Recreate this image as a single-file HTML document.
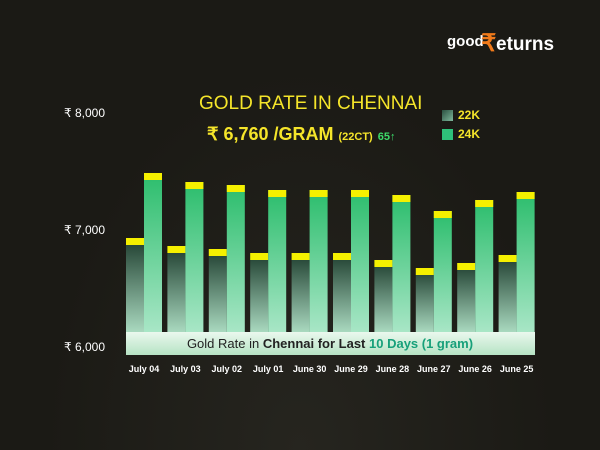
<!DOCTYPE html>
<html><head><meta charset="utf-8"><style>
body{margin:0;width:600px;height:450px;overflow:hidden;background:#1b1a15;font-family:"Liberation Sans",sans-serif;}
.a{position:absolute;}
</style></head><body>
<div class="a" style="left:0;top:0;width:600px;height:450px;background:radial-gradient(ellipse at 50% 100%,#26251f 0%,#1b1a15 60%);"></div>
<div class="a" style="left:447px;top:33px;color:#fff;font-weight:bold;font-size:15px;">good</div>
<div class="a" style="left:481px;top:29px;color:#f07a1a;font-weight:bold;font-size:24px;">₹</div>
<div class="a" style="left:496px;top:34px;color:#fff;font-weight:bold;font-size:19px;">eturns</div>
<div class="a" style="left:64px;top:106px;color:#fff;font-size:12px;">₹ 8,000</div>
<div class="a" style="left:64px;top:223px;color:#fff;font-size:12px;">₹ 7,000</div>
<div class="a" style="left:64px;top:340px;color:#fff;font-size:12px;">₹ 6,000</div>
<div class="a" style="left:199px;top:93px;color:#f5e52a;font-size:19px;">GOLD RATE IN CHENNAI</div>
<div class="a" style="left:207px;top:124px;color:#f5e52a;font-size:18px;font-weight:bold;">₹ 6,760 /GRAM <span style="font-size:11px">(22CT)</span> <span style="font-size:11px;color:#3ddc6a">65↑</span></div>
<div class="a" style="left:442px;top:110px;width:11px;height:11px;background:linear-gradient(135deg,#2a5040,#7fb89c);"></div>
<div class="a" style="left:458px;top:108px;color:#f5e52a;font-size:12px;font-weight:bold;">22K</div>
<div class="a" style="left:442px;top:129px;width:11px;height:11px;background:#2ec27a;"></div>
<div class="a" style="left:458px;top:127px;color:#f5e52a;font-size:12px;font-weight:bold;">24K</div>
<svg class="a" style="left:0;top:0" width="600" height="450">
<defs>
<linearGradient id="g22" x1="0" y1="0" x2="0" y2="1"><stop offset="0" stop-color="#1e3d2e"/><stop offset="1" stop-color="#a9d9bf"/></linearGradient>
<linearGradient id="g24" x1="0" y1="0" x2="0" y2="1"><stop offset="0" stop-color="#2bbd6c"/><stop offset="1" stop-color="#a8e6c6"/></linearGradient>
<linearGradient id="bn" x1="0" y1="0" x2="0" y2="1"><stop offset="0" stop-color="#eaf8ee"/><stop offset="1" stop-color="#b6e3c4"/></linearGradient>
</defs>
<g id="bars"></g>
<rect x="126" y="332" width="409" height="23" fill="url(#bn)"/>
<text x="330" y="348" text-anchor="middle" font-family="Liberation Sans" font-size="13" fill="#222">Gold Rate in <tspan font-weight="bold">Chennai for Last </tspan><tspan font-weight="bold" fill="#17a07a">10 Days (1 gram)</tspan></text>
</svg>
<script>
var t22=[238,246,249,253,253,253,260,268,263,255],t24=[173,182,185,190,190,190,195,211,200,192];
var lab=["July 04","July 03","July 02","July 01","June 30","June 29","June 28","June 27","June 26","June 25"];
var s="";
for(var i=0;i<10;i++){var x=126+i*41.4;
s+='<rect x="'+x+'" y="'+t22[i]+'" width="18" height="'+(332-t22[i])+'" fill="url(#g22)"/>';
s+='<rect x="'+x+'" y="'+t22[i]+'" width="18" height="7" fill="#f5f000"/>';
s+='<rect x="'+(x+18)+'" y="'+t24[i]+'" width="18" height="'+(332-t24[i])+'" fill="url(#g24)"/>';
s+='<rect x="'+(x+18)+'" y="'+t24[i]+'" width="18" height="7" fill="#f5f000"/>';
s+='<text x="'+(x+18)+'" y="372" text-anchor="middle" font-family="Liberation Sans" font-size="9" font-weight="bold" fill="#fff">'+lab[i]+'</text>';}
document.getElementById("bars").innerHTML=s;
</script>
</body></html>
